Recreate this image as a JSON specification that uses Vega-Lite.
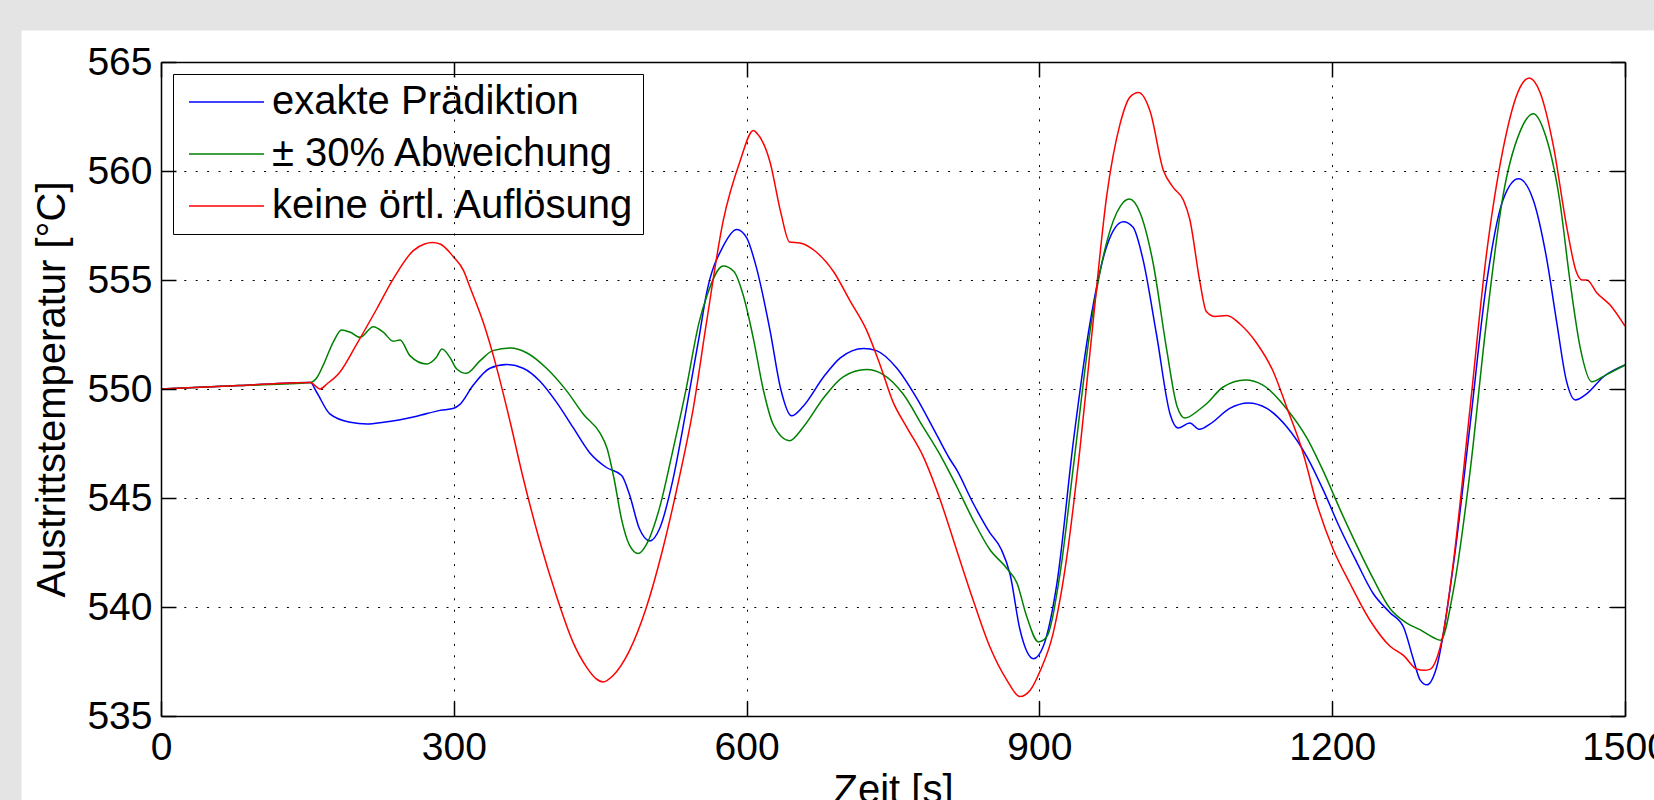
{
  "$schema": "https://vega.github.io/schema/vega-lite/v6.json",
  "width": 1464,
  "height": 654,
  "autosize": {"type": "none"},
  "padding": {"left": 161, "top": 62, "right": 29, "bottom": 84},
  "background": "#e4e4e4",
  "config": {
    "view": {"stroke": null},
    "font": "Liberation Sans",
    "axis": {
      "domainColor": "#000000",
      "domainWidth": 1.5,
      "tickColor": "#000000",
      "tickWidth": 1.5,
      "tickSize": -15,
      "labelFont": "Liberation Sans",
      "labelFontSize": 39,
      "labelColor": "#000000",
      "labelFlush": false,
      "labelOverlap": false,
      "titleFont": "Liberation Sans",
      "titleFontSize": 40,
      "titleFontWeight": "normal",
      "titleColor": "#000000",
      "gridColor": "#000000",
      "gridWidth": 1,
      "gridDash": [2, 9.4]
    },
    "legend": {
      "labelFont": "Liberation Sans",
      "labelFontSize": 40,
      "labelColor": "#000000",
      "labelLimit": 0
    }
  },
  "data": {
    "values": [
      {"t":0,"T":550.0,"s":"exakte Prädiktion"},{"t":80,"T":550.16,"s":"exakte Prädiktion"},{"t":153,"T":550.3,"s":"exakte Prädiktion"},{"t":159.5,"T":549.85,"s":"exakte Prädiktion"},{"t":173,"T":548.86,"s":"exakte Prädiktion"},{"t":194,"T":548.47,"s":"exakte Prädiktion"},{"t":211,"T":548.39,"s":"exakte Prädiktion"},{"t":228,"T":548.47,"s":"exakte Prädiktion"},{"t":262,"T":548.75,"s":"exakte Prädiktion"},{"t":286,"T":549.02,"s":"exakte Prädiktion"},{"t":300,"T":549.12,"s":"exakte Prädiktion"},{"t":306,"T":549.28,"s":"exakte Prädiktion"},{"t":320,"T":550.18,"s":"exakte Prädiktion"},{"t":337,"T":550.95,"s":"exakte Prädiktion"},{"t":354,"T":551.12,"s":"exakte Prädiktion"},{"t":371,"T":550.95,"s":"exakte Prädiktion"},{"t":388,"T":550.37,"s":"exakte Prädiktion"},{"t":405,"T":549.41,"s":"exakte Prädiktion"},{"t":422,"T":548.25,"s":"exakte Prädiktion"},{"t":439,"T":547.09,"s":"exakte Prädiktion"},{"t":456,"T":546.41,"s":"exakte Prädiktion"},{"t":472,"T":546.03,"s":"exakte Prädiktion"},{"t":480,"T":545.16,"s":"exakte Prädiktion"},{"t":490,"T":543.61,"s":"exakte Prädiktion"},{"t":501,"T":543.03,"s":"exakte Prädiktion"},{"t":511,"T":543.61,"s":"exakte Prädiktion"},{"t":524,"T":545.74,"s":"exakte Prädiktion"},{"t":538,"T":549.02,"s":"exakte Prädiktion"},{"t":551,"T":552.3,"s":"exakte Prädiktion"},{"t":559,"T":554.4,"s":"exakte Prädiktion"},{"t":576,"T":556.55,"s":"exakte Prädiktion"},{"t":590,"T":557.32,"s":"exakte Prädiktion"},{"t":600,"T":556.94,"s":"exakte Prädiktion"},{"t":610,"T":555.58,"s":"exakte Prädiktion"},{"t":624,"T":552.69,"s":"exakte Prädiktion"},{"t":635,"T":549.99,"s":"exakte Prädiktion"},{"t":646,"T":548.77,"s":"exakte Prädiktion"},{"t":658,"T":549.21,"s":"exakte Prädiktion"},{"t":679,"T":550.56,"s":"exakte Prädiktion"},{"t":696,"T":551.43,"s":"exakte Prädiktion"},{"t":720,"T":551.86,"s":"exakte Prädiktion"},{"t":733,"T":551.76,"s":"exakte Prädiktion"},{"t":754,"T":550.95,"s":"exakte Prädiktion"},{"t":774,"T":549.6,"s":"exakte Prädiktion"},{"t":794,"T":547.96,"s":"exakte Prädiktion"},{"t":808,"T":546.8,"s":"exakte Prädiktion"},{"t":815,"T":546.31,"s":"exakte Prädiktion"},{"t":832,"T":544.77,"s":"exakte Prädiktion"},{"t":849,"T":543.42,"s":"exakte Prädiktion"},{"t":861,"T":542.64,"s":"exakte Prädiktion"},{"t":870,"T":541.49,"s":"exakte Prädiktion"},{"t":880,"T":538.98,"s":"exakte Prädiktion"},{"t":894,"T":537.63,"s":"exakte Prädiktion"},{"t":904,"T":538.2,"s":"exakte Prädiktion"},{"t":918,"T":541.1,"s":"exakte Prädiktion"},{"t":935,"T":547.67,"s":"exakte Prädiktion"},{"t":952,"T":553.07,"s":"exakte Prädiktion"},{"t":969,"T":556.55,"s":"exakte Prädiktion"},{"t":986,"T":557.67,"s":"exakte Prädiktion"},{"t":996,"T":557.42,"s":"exakte Prädiktion"},{"t":1006,"T":555.97,"s":"exakte Prädiktion"},{"t":1020,"T":552.5,"s":"exakte Prädiktion"},{"t":1034,"T":548.83,"s":"exakte Prädiktion"},{"t":1042,"T":548.21,"s":"exakte Prädiktion"},{"t":1054,"T":548.44,"s":"exakte Prädiktion"},{"t":1064,"T":548.15,"s":"exakte Prädiktion"},{"t":1075,"T":548.4,"s":"exakte Prädiktion"},{"t":1095,"T":549.11,"s":"exakte Prädiktion"},{"t":1114,"T":549.36,"s":"exakte Prädiktion"},{"t":1133,"T":549.11,"s":"exakte Prädiktion"},{"t":1153,"T":548.29,"s":"exakte Prädiktion"},{"t":1174,"T":546.9,"s":"exakte Prädiktion"},{"t":1191,"T":545.35,"s":"exakte Prädiktion"},{"t":1208,"T":543.61,"s":"exakte Prädiktion"},{"t":1225,"T":542.07,"s":"exakte Prädiktion"},{"t":1242,"T":540.62,"s":"exakte Prädiktion"},{"t":1259,"T":539.75,"s":"exakte Prädiktion"},{"t":1273,"T":539.08,"s":"exakte Prädiktion"},{"t":1283,"T":537.63,"s":"exakte Prädiktion"},{"t":1290,"T":536.66,"s":"exakte Prädiktion"},{"t":1297,"T":536.43,"s":"exakte Prädiktion"},{"t":1307,"T":537.24,"s":"exakte Prädiktion"},{"t":1324,"T":541.87,"s":"exakte Prädiktion"},{"t":1341,"T":548.25,"s":"exakte Prädiktion"},{"t":1358,"T":554.81,"s":"exakte Prädiktion"},{"t":1375,"T":558.67,"s":"exakte Prädiktion"},{"t":1391,"T":559.64,"s":"exakte Prädiktion"},{"t":1406,"T":558.67,"s":"exakte Prädiktion"},{"t":1419,"T":556.16,"s":"exakte Prädiktion"},{"t":1430,"T":553.07,"s":"exakte Prädiktion"},{"t":1440,"T":550.37,"s":"exakte Prädiktion"},{"t":1449,"T":549.5,"s":"exakte Prädiktion"},{"t":1461,"T":549.79,"s":"exakte Prädiktion"},{"t":1478,"T":550.56,"s":"exakte Prädiktion"},{"t":1500,"T":551.1,"s":"exakte Prädiktion"},

      {"t":0,"T":550.0,"s":"± 30% Abweichung"},{"t":80,"T":550.16,"s":"± 30% Abweichung"},{"t":153,"T":550.3,"s":"± 30% Abweichung"},{"t":160,"T":550.54,"s":"± 30% Abweichung"},{"t":166,"T":551.07,"s":"± 30% Abweichung"},{"t":177,"T":552.2,"s":"± 30% Abweichung"},{"t":185,"T":552.71,"s":"± 30% Abweichung"},{"t":194,"T":552.6,"s":"± 30% Abweichung"},{"t":204,"T":552.37,"s":"± 30% Abweichung"},{"t":217.5,"T":552.86,"s":"± 30% Abweichung"},{"t":228,"T":552.6,"s":"± 30% Abweichung"},{"t":238,"T":552.19,"s":"± 30% Abweichung"},{"t":245,"T":552.25,"s":"± 30% Abweichung"},{"t":255,"T":551.53,"s":"± 30% Abweichung"},{"t":272,"T":551.15,"s":"± 30% Abweichung"},{"t":282,"T":551.45,"s":"± 30% Abweichung"},{"t":288,"T":551.83,"s":"± 30% Abweichung"},{"t":296,"T":551.45,"s":"± 30% Abweichung"},{"t":303,"T":550.92,"s":"± 30% Abweichung"},{"t":313,"T":550.72,"s":"± 30% Abweichung"},{"t":327,"T":551.3,"s":"± 30% Abweichung"},{"t":340,"T":551.76,"s":"± 30% Abweichung"},{"t":358,"T":551.88,"s":"± 30% Abweichung"},{"t":375,"T":551.65,"s":"± 30% Abweichung"},{"t":395,"T":550.95,"s":"± 30% Abweichung"},{"t":416,"T":549.89,"s":"± 30% Abweichung"},{"t":433,"T":548.83,"s":"± 30% Abweichung"},{"t":450,"T":547.96,"s":"± 30% Abweichung"},{"t":457,"T":547.28,"s":"± 30% Abweichung"},{"t":464,"T":545.93,"s":"± 30% Abweichung"},{"t":472,"T":544.0,"s":"± 30% Abweichung"},{"t":480,"T":542.84,"s":"± 30% Abweichung"},{"t":489,"T":542.45,"s":"± 30% Abweichung"},{"t":497,"T":542.84,"s":"± 30% Abweichung"},{"t":511,"T":544.58,"s":"± 30% Abweichung"},{"t":524,"T":547.09,"s":"± 30% Abweichung"},{"t":538,"T":549.99,"s":"± 30% Abweichung"},{"t":551,"T":553.0,"s":"± 30% Abweichung"},{"t":559,"T":554.23,"s":"± 30% Abweichung"},{"t":576,"T":555.64,"s":"± 30% Abweichung"},{"t":587,"T":555.39,"s":"± 30% Abweichung"},{"t":597,"T":554.23,"s":"± 30% Abweichung"},{"t":607,"T":552.3,"s":"± 30% Abweichung"},{"t":617,"T":549.99,"s":"± 30% Abweichung"},{"t":627.5,"T":548.35,"s":"± 30% Abweichung"},{"t":644,"T":547.63,"s":"± 30% Abweichung"},{"t":658,"T":548.25,"s":"± 30% Abweichung"},{"t":679,"T":549.6,"s":"± 30% Abweichung"},{"t":699,"T":550.56,"s":"± 30% Abweichung"},{"t":723,"T":550.89,"s":"± 30% Abweichung"},{"t":740,"T":550.66,"s":"± 30% Abweichung"},{"t":760,"T":549.79,"s":"± 30% Abweichung"},{"t":781,"T":548.25,"s":"± 30% Abweichung"},{"t":798,"T":547.0,"s":"± 30% Abweichung"},{"t":815,"T":545.55,"s":"± 30% Abweichung"},{"t":832,"T":544.0,"s":"± 30% Abweichung"},{"t":849,"T":542.65,"s":"± 30% Abweichung"},{"t":866.5,"T":541.78,"s":"± 30% Abweichung"},{"t":877,"T":541.1,"s":"± 30% Abweichung"},{"t":887,"T":539.56,"s":"± 30% Abweichung"},{"t":899,"T":538.4,"s":"± 30% Abweichung"},{"t":907,"T":538.6,"s":"± 30% Abweichung"},{"t":921,"T":541.49,"s":"± 30% Abweichung"},{"t":935,"T":546.51,"s":"± 30% Abweichung"},{"t":952,"T":552.69,"s":"± 30% Abweichung"},{"t":969,"T":556.74,"s":"± 30% Abweichung"},{"t":983,"T":558.39,"s":"± 30% Abweichung"},{"t":992,"T":558.71,"s":"± 30% Abweichung"},{"t":1003,"T":558.1,"s":"± 30% Abweichung"},{"t":1016.5,"T":555.78,"s":"± 30% Abweichung"},{"t":1030,"T":551.92,"s":"± 30% Abweichung"},{"t":1041,"T":549.21,"s":"± 30% Abweichung"},{"t":1049,"T":548.67,"s":"± 30% Abweichung"},{"t":1064,"T":549.06,"s":"± 30% Abweichung"},{"t":1071,"T":549.31,"s":"± 30% Abweichung"},{"t":1088,"T":550.08,"s":"± 30% Abweichung"},{"t":1111,"T":550.41,"s":"± 30% Abweichung"},{"t":1129,"T":550.18,"s":"± 30% Abweichung"},{"t":1153,"T":549.11,"s":"± 30% Abweichung"},{"t":1174,"T":547.76,"s":"± 30% Abweichung"},{"t":1191,"T":546.22,"s":"± 30% Abweichung"},{"t":1208,"T":544.48,"s":"± 30% Abweichung"},{"t":1225,"T":542.84,"s":"± 30% Abweichung"},{"t":1242,"T":541.3,"s":"± 30% Abweichung"},{"t":1259,"T":539.94,"s":"± 30% Abweichung"},{"t":1276,"T":539.27,"s":"± 30% Abweichung"},{"t":1290,"T":538.96,"s":"± 30% Abweichung"},{"t":1304,"T":538.59,"s":"± 30% Abweichung"},{"t":1311,"T":538.47,"s":"± 30% Abweichung"},{"t":1324,"T":540.72,"s":"± 30% Abweichung"},{"t":1341,"T":546.12,"s":"± 30% Abweichung"},{"t":1358,"T":553.07,"s":"± 30% Abweichung"},{"t":1375,"T":558.86,"s":"± 30% Abweichung"},{"t":1392,"T":561.76,"s":"± 30% Abweichung"},{"t":1406,"T":562.63,"s":"± 30% Abweichung"},{"t":1419,"T":561.57,"s":"± 30% Abweichung"},{"t":1433,"T":558.67,"s":"± 30% Abweichung"},{"t":1443.5,"T":555.0,"s":"± 30% Abweichung"},{"t":1454,"T":551.92,"s":"± 30% Abweichung"},{"t":1466,"T":550.33,"s":"± 30% Abweichung"},{"t":1481,"T":550.66,"s":"± 30% Abweichung"},{"t":1500,"T":551.1,"s":"± 30% Abweichung"},

      {"t":0,"T":550.0,"s":"keine örtl. Auflösung"},{"t":80,"T":550.16,"s":"keine örtl. Auflösung"},{"t":153,"T":550.3,"s":"keine örtl. Auflösung"},{"t":163,"T":550.0,"s":"keine örtl. Auflösung"},{"t":170,"T":550.23,"s":"keine örtl. Auflösung"},{"t":183,"T":550.76,"s":"keine örtl. Auflösung"},{"t":200.5,"T":552.06,"s":"keine örtl. Auflösung"},{"t":221,"T":553.67,"s":"keine örtl. Auflösung"},{"t":238,"T":555.05,"s":"keine örtl. Auflösung"},{"t":258.5,"T":556.35,"s":"keine örtl. Auflösung"},{"t":270,"T":556.65,"s":"keine örtl. Auflösung"},{"t":278,"T":556.72,"s":"keine örtl. Auflösung"},{"t":286,"T":556.65,"s":"keine örtl. Auflösung"},{"t":299.5,"T":556.07,"s":"keine örtl. Auflösung"},{"t":310,"T":555.43,"s":"keine örtl. Auflösung"},{"t":317,"T":554.62,"s":"keine örtl. Auflösung"},{"t":330,"T":553.08,"s":"keine örtl. Auflösung"},{"t":344,"T":550.96,"s":"keine örtl. Auflösung"},{"t":358,"T":548.44,"s":"keine örtl. Auflösung"},{"t":371,"T":545.93,"s":"keine örtl. Auflösung"},{"t":388,"T":543.03,"s":"keine örtl. Auflösung"},{"t":405,"T":540.53,"s":"keine örtl. Auflösung"},{"t":422,"T":538.4,"s":"keine örtl. Auflösung"},{"t":436,"T":537.24,"s":"keine örtl. Auflösung"},{"t":446,"T":536.7,"s":"keine örtl. Auflösung"},{"t":453,"T":536.56,"s":"keine örtl. Auflösung"},{"t":463,"T":536.85,"s":"keine örtl. Auflösung"},{"t":480,"T":538.0,"s":"keine örtl. Auflösung"},{"t":497,"T":539.94,"s":"keine örtl. Auflösung"},{"t":514,"T":542.64,"s":"keine örtl. Auflösung"},{"t":531,"T":545.93,"s":"keine örtl. Auflösung"},{"t":545,"T":549.02,"s":"keine örtl. Auflösung"},{"t":559,"T":553.08,"s":"keine örtl. Auflösung"},{"t":576,"T":557.71,"s":"keine örtl. Auflösung"},{"t":593,"T":560.41,"s":"keine örtl. Auflösung"},{"t":607,"T":561.86,"s":"keine örtl. Auflösung"},{"t":610,"T":561.76,"s":"keine örtl. Auflösung"},{"t":624,"T":560.41,"s":"keine örtl. Auflösung"},{"t":635,"T":558.1,"s":"keine örtl. Auflösung"},{"t":644,"T":556.74,"s":"keine örtl. Auflösung"},{"t":654.5,"T":556.7,"s":"keine örtl. Auflösung"},{"t":672,"T":556.26,"s":"keine örtl. Auflösung"},{"t":689,"T":555.39,"s":"keine örtl. Auflösung"},{"t":706,"T":554.04,"s":"keine örtl. Auflösung"},{"t":723,"T":552.69,"s":"keine örtl. Auflösung"},{"t":736.5,"T":551.14,"s":"keine örtl. Auflösung"},{"t":750,"T":549.41,"s":"keine örtl. Auflösung"},{"t":764,"T":548.25,"s":"keine örtl. Auflösung"},{"t":781,"T":546.9,"s":"keine örtl. Auflösung"},{"t":798,"T":544.96,"s":"keine örtl. Auflösung"},{"t":815,"T":542.64,"s":"keine örtl. Auflösung"},{"t":832,"T":540.33,"s":"keine örtl. Auflösung"},{"t":849,"T":538.2,"s":"keine örtl. Auflösung"},{"t":866.5,"T":536.66,"s":"keine örtl. Auflösung"},{"t":880,"T":535.89,"s":"keine örtl. Auflösung"},{"t":890.5,"T":536.18,"s":"keine örtl. Auflösung"},{"t":900.6,"T":537.05,"s":"keine örtl. Auflösung"},{"t":914,"T":538.78,"s":"keine örtl. Auflösung"},{"t":928,"T":542.26,"s":"keine örtl. Auflösung"},{"t":941.6,"T":547.28,"s":"keine örtl. Auflösung"},{"t":955,"T":553.07,"s":"keine örtl. Auflösung"},{"t":969,"T":558.87,"s":"keine örtl. Auflösung"},{"t":982.6,"T":562.15,"s":"keine örtl. Auflösung"},{"t":993,"T":563.4,"s":"keine örtl. Auflösung"},{"t":1001.5,"T":563.6,"s":"keine örtl. Auflösung"},{"t":1013.5,"T":562.73,"s":"keine örtl. Auflösung"},{"t":1027,"T":560.03,"s":"keine örtl. Auflösung"},{"t":1037,"T":559.25,"s":"keine örtl. Auflösung"},{"t":1047.5,"T":558.67,"s":"keine örtl. Auflösung"},{"t":1054,"T":557.8,"s":"keine örtl. Auflösung"},{"t":1064.5,"T":554.9,"s":"keine örtl. Auflösung"},{"t":1071,"T":553.56,"s":"keine örtl. Auflösung"},{"t":1080,"T":553.33,"s":"keine örtl. Auflösung"},{"t":1092,"T":553.37,"s":"keine örtl. Auflösung"},{"t":1105.5,"T":552.98,"s":"keine örtl. Auflösung"},{"t":1122.5,"T":552.11,"s":"keine örtl. Auflösung"},{"t":1140,"T":550.76,"s":"keine örtl. Auflösung"},{"t":1153,"T":549.21,"s":"keine örtl. Auflösung"},{"t":1170,"T":547.09,"s":"keine örtl. Auflösung"},{"t":1184,"T":544.77,"s":"keine örtl. Auflösung"},{"t":1201,"T":542.65,"s":"keine örtl. Auflösung"},{"t":1218,"T":541.1,"s":"keine örtl. Auflösung"},{"t":1239,"T":539.37,"s":"keine örtl. Auflösung"},{"t":1259,"T":538.21,"s":"keine örtl. Auflösung"},{"t":1273,"T":537.78,"s":"keine örtl. Auflösung"},{"t":1287,"T":537.14,"s":"keine örtl. Auflösung"},{"t":1294,"T":537.1,"s":"keine örtl. Auflösung"},{"t":1300,"T":537.14,"s":"keine örtl. Auflösung"},{"t":1307,"T":537.63,"s":"keine örtl. Auflösung"},{"t":1313,"T":538.6,"s":"keine örtl. Auflösung"},{"t":1324,"T":542.0,"s":"keine örtl. Auflösung"},{"t":1341,"T":549.02,"s":"keine örtl. Auflösung"},{"t":1358,"T":556.16,"s":"keine örtl. Auflösung"},{"t":1375,"T":560.99,"s":"keine örtl. Auflösung"},{"t":1392,"T":563.79,"s":"keine örtl. Auflösung"},{"t":1402,"T":564.27,"s":"keine örtl. Auflösung"},{"t":1413,"T":563.6,"s":"keine örtl. Auflösung"},{"t":1426.5,"T":561.18,"s":"keine örtl. Auflösung"},{"t":1440,"T":557.51,"s":"keine örtl. Auflösung"},{"t":1450,"T":555.39,"s":"keine örtl. Auflösung"},{"t":1456,"T":555.0,"s":"keine örtl. Auflösung"},{"t":1461,"T":555.0,"s":"keine örtl. Auflösung"},{"t":1471,"T":554.42,"s":"keine örtl. Auflösung"},{"t":1485,"T":553.84,"s":"keine örtl. Auflösung"},{"t":1500,"T":552.88,"s":"keine örtl. Auflösung"}
    ]
  },
  "layer": [
    {
      "data": {"values": [{}]},
      "mark": {"type": "rect", "fill": "#ffffff", "clip": false},
      "encoding": {
        "x": {
          "datum": -143,
          "type": "quantitative",
          "scale": {"domain": [0, 1500], "nice": false, "zero": false},
          "axis": {"orient": "top", "zindex": 1, "labels": false, "grid": false, "title": null, "values": [0, 300, 600, 900, 1200, 1500]}
        },
        "x2": {"datum": 1700},
        "y": {
          "datum": 566.45,
          "type": "quantitative",
          "scale": {"domain": [535, 565], "nice": false, "zero": false},
          "axis": {"orient": "right", "zindex": 1, "labels": false, "grid": false, "title": null, "values": [535, 540, 545, 550, 555, 560, 565]}
        },
        "y2": {"datum": 520}
      }
    },
    {
      "mark": {"type": "line", "strokeWidth": 1.5, "interpolate": "monotone"},
      "encoding": {
        "x": {
          "field": "t",
          "type": "quantitative",
          "scale": {"domain": [0, 1500], "nice": false, "zero": false},
          "axis": {
            "orient": "bottom",
            "zindex": 1,
            "values": [0, 300, 600, 900, 1200, 1500],
            "format": "d",
            "title": "Zeit [s]",
            "grid": true,
            "labelPadding": 27,
            "titleY": 86,
            "titleBaseline": "alphabetic"
          }
        },
        "y": {
          "field": "T",
          "type": "quantitative",
          "scale": {"domain": [535, 565], "nice": false, "zero": false},
          "axis": {
            "orient": "left",
            "zindex": 1,
            "values": [535, 540, 545, 550, 555, 560, 565],
            "format": "d",
            "title": "Austrittstemperatur [°C]",
            "grid": true,
            "labelPadding": 24,
            "titleAngle": 270,
            "titleX": -97,
            "titleY": 327,
            "titleAlign": "center",
            "titleBaseline": "alphabetic"
          }
        },
        "color": {
          "field": "s",
          "type": "nominal",
          "scale": {
            "domain": ["exakte Prädiktion", "± 30% Abweichung", "keine örtl. Auflösung"],
            "range": ["#0000ff", "#008000", "#ff0000"]
          },
          "legend": {
            "title": null,
            "orient": "top-left",
            "offset": 12,
            "fillColor": "#ffffff",
            "strokeColor": "#000000",
            "padding": 8,
            "symbolType": "stroke",
            "symbolSize": 5625,
            "symbolStrokeWidth": 1.5,
            "symbolOffset": 7,
            "labelOffset": 7,
            "clipHeight": 40,
            "rowPadding": 12
          }
        }
      }
    }
  ],
  "resolve": {"axis": {"x": "independent", "y": "independent"}}
}
